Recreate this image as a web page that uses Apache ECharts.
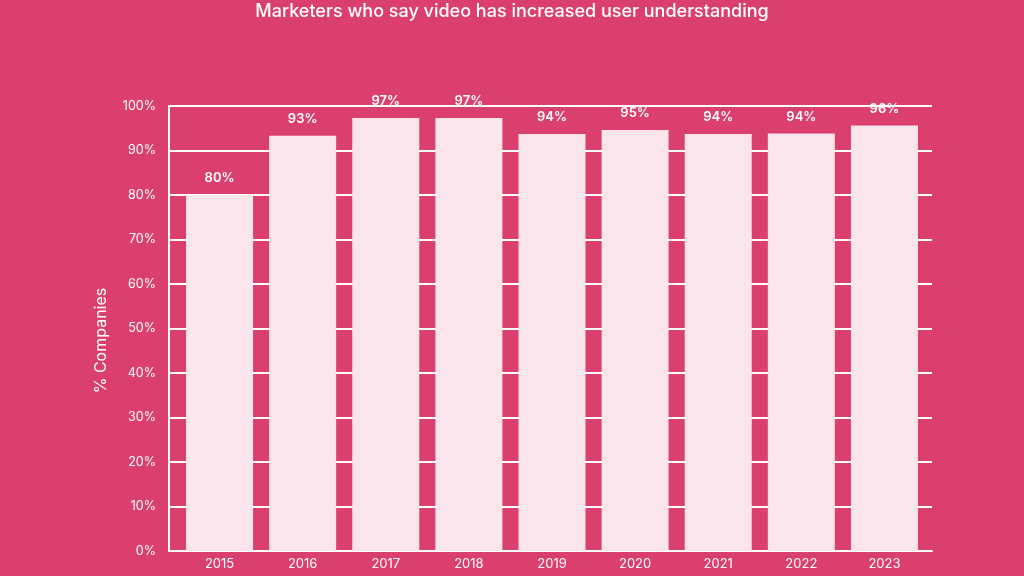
<!DOCTYPE html>
<html><head><meta charset="utf-8">
<script src="https://cdn.jsdelivr.net/npm/echarts@6/dist/echarts.min.js"></script>
<style>html,body{margin:0;padding:0;background:#DB3F6E;}#c{width:1024px;height:576px;}</style>
</head><body><div id="c"></div>
<script>
const years = ['2015','2016','2017','2018','2019','2020','2021','2022','2023'];
const values = [80, 93, 97, 97, 94, 95, 94, 94, 96];
const barTops = [80, 93.3, 97.3, 97.3, 93.7, 94.6, 93.7, 93.8, 95.6];
const yTicks = [0,10,20,30,40,50,60,70,80,90,100];
const title = 'Marketers who say video has increased user understanding';

const chart = echarts.init(document.getElementById('c'));
const font = 'Inter, "Noto Sans", sans-serif';
chart.setOption({
  backgroundColor: '#DB3F6E',
  animation: false,
  title: {
    text: title, left: 'center', top: -2,
    textStyle: {color: '#ffffff', fontSize: 18, fontWeight: 500, fontFamily: font}
  },
  grid: [
    {left: 169, right: 92, top: 106, bottom: 25},
    {left: 178, right: 98, top: 106, bottom: 25}
  ],
  xAxis: [{
    gridIndex: 0, type: 'category', data: years,
    axisLine: {show: true, lineStyle: {color: '#ffffff', width: 2}},
    axisTick: {show: false}, axisLabel: {show: false}, splitLine: {show: false}
  }, {
    gridIndex: 1, type: 'category', data: years,
    axisLine: {show: false}, axisTick: {show: false},
    axisLabel: {color: '#ffffff', fontSize: 13, fontFamily: font, margin: 7}
  }],
  yAxis: [{
    gridIndex: 0, type: 'value', min: 0, max: 100, interval: 10,
    name: '% Companies', nameLocation: 'middle', nameGap: 60, nameRotate: 90,
    nameTextStyle: {color: '#ffffff', fontSize: 16, fontFamily: font, padding: [0, 24, 0, 0]},
    axisLine: {show: true, lineStyle: {color: '#ffffff', width: 2}},
    axisTick: {show: false},
    axisLabel: {color: '#ffffff', fontSize: 12.5, fontFamily: font, margin: 13,
      padding: [5, 0, 0, 0],
      formatter: v => yTicks.includes(v) ? v + '%' : ''},
    splitLine: {show: true, lineStyle: {color: '#ffffff', width: 2}}
  }, {
    gridIndex: 1, type: 'value', min: 0, max: 100, interval: 10, show: false
  }],
  series: [{
    type: 'bar', xAxisIndex: 1, yAxisIndex: 1,
    data: barTops,
    barCategoryGap: '19.4%',
    itemStyle: {color: '#F9E5EB'},
    label: {
      show: true, position: 'top', distance: 10,
      color: '#ffffff', fontSize: 13, fontWeight: 600, fontFamily: font,
      formatter: p => values[p.dataIndex] + '%'
    },
    z: 3
  }]
});
</script></body></html>
